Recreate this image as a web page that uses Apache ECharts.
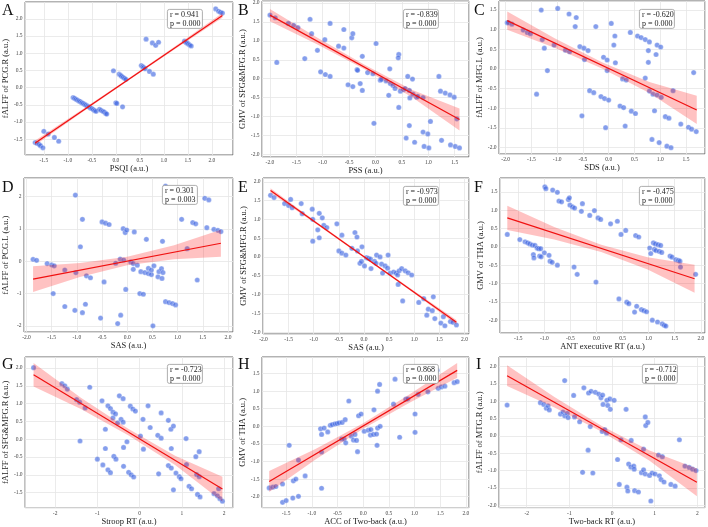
<!DOCTYPE html>
<html>
<head>
<meta charset="utf-8">
<script src="https://cdn.jsdelivr.net/npm/echarts@6.0.0/dist/echarts.min.js"></script>
<style>
  html, body { margin: 0; padding: 0; background: #fff; }
  #chart { width: 708px; height: 527px; }
</style>
</head>
<body>
<div id="chart"></div>
<script>
// ---- text ----
const letters = ['A', 'B', 'C', 'D', 'E', 'F', 'G', 'H', 'I'];
const xNames = ['PSQI (a.u.)', 'PSS (a.u.)', 'SDS (a.u.)', 'SAS (a.u.)', 'SAS (a.u.)',
  'ANT executive RT (a.u.)', 'Stroop RT (a.u.)', 'ACC of Two-back (a.u.)', 'Two-back RT (a.u.)'];
const yNames = ['fALFF of PCG.R (a.u.)', 'GMV of SFG&MFG.R (a.u.)', 'fALFF of MFG.L (a.u.)',
  'fALFF of PCG.L (a.u.)', 'GMV of SFG&MFG.R (a.u.)', 'GMV of THA (a.u.)',
  'fALFF of SFG&MFG.R (a.u.)', 'GMV of THA (a.u.)', 'fALFF of MTG.R (a.u.)'];
const rVals = ['0.941', '-0.839', '-0.620', '0.301', '-0.973', '-0.475', '-0.723', '0.868', '-0.712'];
const pVals = ['0.000', '0.000', '0.000', '0.003', '0.000', '0.000', '0.000', '0.000', '0.000'];

// ---- axis ranges / tick steps ----
const xMin = [-1.89, -2.15, -2.13, -2.05, -2.01, -1.85, -2.71, -1.97, -2.65];
const xMax = [2.44, 1.77, 1.87, 2.10, 2.09, 2.08, 2.21, 2.06, 2.18];
const yMin = [-1.96, -2.07, -2.16, -2.19, -2.05, -2.35, -1.92, -2.31, -2.07];
const yMax = [2.49, 2.05, 1.73, 2.58, 2.10, 1.88, 2.31, 1.97, 2.28];
const xStep = [0.5, 0.5, 0.5, 0.5, 0.5, 0.5, 1, 0.5, 1];
const yStep = [0.5, 0.5, 0.5, 1, 0.5, 0.5, 0.5, 0.5, 0.5];

// ---- points ----
const ptsA = [[-1.68,-1.60],[-1.64,-1.62],[-1.60,-1.65],[-1.57,-1.69],[-1.52,-1.75],[-1.50,-1.27],[-1.41,-1.35],[-1.28,-1.45],[-1.19,-1.56],
  [-0.89,-0.29],[-0.86,-0.31],[-0.83,-0.34],[-0.80,-0.36],[-0.77,-0.39],[-0.74,-0.41],[-0.71,-0.44],[-0.68,-0.46],[-0.65,-0.49],[-0.62,-0.51],[-0.59,-0.54],[-0.56,-0.56],[-0.53,-0.59],[-0.50,-0.61],[-0.47,-0.64],[-0.44,-0.67],[-0.41,-0.69],
  [-0.34,-0.63],[-0.31,-0.66],[-0.27,-0.69],[-0.24,-0.71],[-0.21,-0.75],[-0.19,-0.77],
  [-0.05,0.49],[0.00,-0.44],[0.02,-0.46],[0.14,-0.56],
  [0.07,0.39],[0.10,0.36],[0.12,0.33],[0.15,0.30],[0.18,0.27],[0.21,0.24],
  [0.53,0.64],[0.56,0.61],[0.58,0.58],[0.61,0.55],
  [0.63,1.41],[0.70,0.47],[0.78,0.39],[0.76,1.30],[0.83,1.23],[0.89,1.32],
  [1.43,1.35],[1.46,1.32],[1.48,1.30],[1.51,1.27],[1.54,1.24],[1.57,1.21],
  [2.08,2.29],[2.14,2.22],[2.18,2.19],[2.22,2.17]];
const ptsB = [[-2.00,1.68],[-1.90,1.61],[-1.87,0.43],[-1.65,1.46],[-1.55,1.41],[-1.47,1.35],[-1.34,0.53],[-1.24,1.57],[-1.21,1.19],[-1.10,0.75],[-1.04,0.18],[-0.96,1.03],[-0.95,0.11],[-0.86,1.46],[-0.86,0.06],[-0.70,0.86],[-0.60,1.30],[-0.60,0.81],[-0.52,-0.16],[-0.45,1.08],[-0.43,1.19],[-0.43,-0.21],[-0.35,0.24],[-0.34,0.22],[-0.29,-0.13],[-0.25,0.59],[-0.25,-0.31],[-0.15,0.16],[-0.05,0.13],[-0.03,-1.18],[0.01,0.93],[0.09,-0.04],[0.11,-0.02],[0.20,-0.06],[0.25,-0.44],[0.27,0.26],[0.28,-0.13],[0.33,-0.18],[0.37,-0.26],[0.44,0.64],[0.43,0.55],[0.44,-0.76],[0.47,-0.33],[0.53,-0.29],[0.56,-0.26],[0.58,-1.57],[0.61,0.06],[0.64,-0.31],[0.64,-1.24],[0.65,-0.51],[0.70,-0.01],[0.71,-0.41],[0.74,-1.68],[0.78,-0.49],[0.80,-0.47],[0.90,-0.50],[0.90,-1.41],[0.92,-1.79],[0.99,-1.46],[1.01,-1.83],[1.04,-1.13],[1.20,0.06],[1.23,-0.33],[1.25,-1.63],[1.32,-0.38],[1.41,-0.43],[1.42,-1.75],[1.49,-0.49],[1.51,-1.79],[1.54,-1.06],[1.59,-1.83]];
const ptsC = [[-1.97,1.18],[-1.95,1.18],[-1.88,1.14],[-1.66,0.99],[-1.58,0.93],[-1.52,0.90],[-1.40,-0.64],[-1.31,1.50],[-1.29,0.75],[-1.25,0.53],[-1.19,-0.04],[-1.06,0.61],[-0.99,1.54],[-0.84,0.48],[-0.77,1.40],[-0.76,0.44],[-0.65,1.08],[-0.63,1.31],[-0.56,0.57],[-0.52,-1.19],[-0.48,0.53],[-0.47,0.24],[-0.40,0.47],[-0.37,-0.55],[-0.29,-0.60],[-0.25,1.08],[-0.15,-0.70],[-0.10,0.30],[-0.08,-0.75],[-0.06,-1.49],[-0.03,0.23],[-0.03,-0.04],[0.00,-0.79],[0.05,1.16],[0.10,0.61],[0.12,0.84],[0.13,0.16],[0.22,-0.94],[0.27,-0.25],[0.29,-0.98],[0.32,-1.45],[0.34,-0.28],[0.42,0.93],[0.44,-1.07],[0.52,-1.13],[0.56,0.84],[0.63,0.80],[0.71,0.75],[0.71,-0.23],[0.77,0.47],[0.77,0.17],[0.79,0.69],[0.79,-0.56],[0.84,-1.79],[0.86,-0.64],[0.89,-1.06],[0.92,0.37],[0.94,0.61],[0.94,-0.66],[0.98,-1.87],[1.01,0.56],[1.02,-0.72],[1.10,-1.21],[1.13,-1.96],[1.17,-1.25],[1.21,-2.00],[1.25,-0.55],[1.40,-1.40],[1.55,-1.48],[1.61,-1.53],[1.65,-0.09],[1.70,-1.59]];
const ptsD = [[-1.87,0.06],[-1.80,0.03],[-1.59,-0.07],[-1.50,-0.11],[-1.47,-1.00],[-1.45,-0.14],[-1.24,-0.27],[-1.24,-1.40],[-1.03,2.05],[-1.02,-0.35],[-1.04,-1.52],[-0.93,0.45],[-0.89,1.30],[-0.89,-1.59],[-0.83,-1.33],[-0.81,-0.45],[-0.73,-0.51],[-0.53,-1.76],[-0.50,1.22],[-0.46,-0.64],[-0.43,1.18],[-0.36,1.14],[-0.23,-0.06],[-0.19,-1.93],[-0.14,0.07],[-0.13,-1.67],[-0.08,1.01],[-0.07,0.04],[-0.04,0.89],[-0.03,-0.87],[-0.01,0.97],[0.07,-0.02],[0.12,-0.07],[0.12,-0.25],[0.14,0.91],[0.20,-0.12],[0.25,-1.00],[0.27,-0.32],[0.32,-1.02],[0.35,-0.35],[0.38,0.68],[0.42,-0.22],[0.42,-0.38],[0.48,-0.41],[0.48,-0.27],[0.51,-2.00],[0.53,-0.14],[0.61,-0.48],[0.63,-0.32],[0.68,-0.23],[0.69,-0.53],[0.70,0.62],[0.71,-0.35],[0.76,2.33],[0.76,-1.25],[0.83,-1.28],[0.90,-1.31],[0.96,-1.35],[1.08,1.30],[1.19,0.39],[1.30,1.20],[1.36,1.16],[1.39,-0.58],[1.54,1.95],[1.62,1.90],[1.58,1.04],[1.72,0.99],[1.80,0.96],[1.86,0.92]];
const ptsE = [[-1.86,1.64],[-1.79,1.58],[-1.58,1.42],[-1.50,1.37],[-1.46,1.53],[-1.43,1.31],[-1.25,1.42],[-1.23,1.15],[-1.03,1.27],[-1.02,1.00],[-1.02,0.42],[-0.92,0.72],[-0.89,1.16],[-0.89,0.51],[-0.83,1.04],[-0.80,0.84],[-0.74,0.78],[-0.54,0.88],[-0.50,0.16],[-0.44,0.58],[-0.44,0.10],[-0.36,0.05],[-0.24,0.23],[-0.18,0.65],[-0.14,0.53],[-0.13,0.16],[-0.08,-0.17],[-0.05,-0.12],[-0.04,0.27],[0.01,-0.24],[0.05,-0.02],[0.09,-0.04],[0.13,-0.06],[0.14,-0.31],[0.21,-0.12],[0.24,-0.17],[0.25,0.05],[0.32,0.00],[0.35,-0.19],[0.37,-0.43],[0.42,-0.24],[0.47,-0.30],[0.48,0.05],[0.52,-0.43],[0.59,-0.40],[0.64,-0.43],[0.67,-0.48],[0.68,-0.73],[0.70,-0.37],[0.75,-0.31],[0.77,-1.17],[0.82,-0.37],[0.88,-0.42],[0.95,-0.48],[1.09,-1.21],[1.19,-1.11],[1.25,-1.55],[1.28,-1.39],[1.36,-1.43],[1.38,-1.06],[1.41,-1.64],[1.53,-1.76],[1.58,-1.59],[1.61,-1.83],[1.72,-1.72],[1.77,-1.74],[1.84,-1.81]];
const ptsF = [[-1.71,0.34],[-1.47,0.20],[-1.37,0.14],[-1.32,0.11],[-1.28,0.08],[-1.23,0.05],[-1.21,-0.21],[-1.20,-0.30],[-1.18,0.04],[-1.14,-0.03],[-1.11,-0.05],[-1.09,-0.25],[-1.07,-0.05],[-1.06,-0.27],[-1.00,-0.16],[-0.99,1.64],[-0.97,1.59],[-0.91,-0.23],[-0.89,-0.39],[-0.85,-0.42],[-0.84,1.55],[-0.75,-0.50],[-0.75,1.49],[-0.72,1.25],[-0.67,1.23],[-0.54,1.29],[-0.52,1.34],[-0.51,1.14],[-0.46,1.09],[-0.42,1.06],[-0.43,-0.55],[-0.37,-0.75],[-0.29,0.97],[-0.27,1.18],[-0.13,0.86],[-0.04,0.99],[-0.01,-0.96],[0.03,0.79],[0.08,0.75],[0.27,0.63],[0.40,0.70],[0.43,-1.42],[0.47,0.34],[0.56,0.45],[0.58,-1.51],[0.62,-1.55],[0.73,-1.78],[0.75,0.31],[0.77,-1.62],[0.81,0.27],[0.86,-1.71],[0.91,-1.74],[0.96,-1.77],[1.02,-0.03],[1.04,-0.18],[1.07,-2.00],[1.09,0.11],[1.11,-0.07],[1.13,0.08],[1.14,-0.10],[1.17,-2.05],[1.18,0.06],[1.20,-0.12],[1.23,0.04],[1.25,-0.15],[1.26,-2.10],[1.30,-2.14],[1.33,-2.16],[1.41,-0.25],[1.45,-0.28],[1.52,-0.35],[1.57,-0.37],[1.60,-0.39],[1.61,-0.55],[1.90,-0.75]];
const ptsG = [[-2.51,2.01],[-1.84,1.56],[-1.77,1.50],[-1.71,1.41],[-1.49,1.11],[-1.42,1.04],[-1.41,-0.05],[-1.29,0.88],[-1.18,1.46],[-1.00,-0.56],[-0.89,1.08],[-0.87,-0.72],[-0.81,0.28],[-0.81,-0.26],[-0.75,0.94],[-0.75,-0.86],[-0.69,0.86],[-0.69,-0.94],[-0.63,0.76],[-0.63,0.60],[-0.61,-0.48],[-0.57,0.71],[-0.56,-0.56],[-0.52,0.46],[-0.48,1.22],[-0.44,0.56],[-0.39,1.14],[-0.39,0.48],[-0.38,-0.23],[-0.38,-0.76],[-0.30,-0.07],[-0.26,-0.93],[-0.22,0.93],[-0.20,-1.00],[-0.16,0.85],[-0.14,-1.06],[-0.10,0.79],[0.02,0.09],[0.08,0.56],[0.09,-0.28],[0.20,0.94],[0.25,0.33],[0.43,0.11],[0.45,-0.97],[0.51,0.74],[0.51,0.03],[0.68,0.53],[0.68,-0.74],[0.74,0.28],[0.75,-0.26],[0.75,-0.81],[0.80,0.37],[0.80,-1.42],[0.86,-0.95],[0.94,-1.05],[0.98,-1.11],[1.10,0.02],[1.11,-0.71],[1.17,-1.32],[1.23,-1.39],[1.33,-0.49],[1.35,-0.99],[1.37,-1.55],[1.41,-0.35],[1.41,-1.05],[1.43,-1.62],[1.76,-1.53],[1.84,-1.59],[1.87,-1.39],[1.90,-1.67],[1.96,-1.74]];
const ptsH = [[-1.83,-1.75],[-1.76,-1.73],[-1.70,-1.71],[-1.57,-1.64],[-1.57,-2.16],[-1.50,-2.11],[-1.44,-0.54],[-1.37,-2.04],[-1.36,-1.55],[-1.31,-1.50],[-1.26,-1.99],[-1.26,-0.96],[-1.13,-1.41],[-0.83,-0.07],[-0.81,-0.23],[-0.81,-0.73],[-0.81,-1.76],[-0.76,-0.05],[-0.69,-0.16],[-0.64,0.03],[-0.60,0.05],[-0.55,0.07],[-0.51,0.08],[-0.47,0.10],[-0.42,-0.36],[-0.41,0.11],[-0.37,-0.36],[-0.35,0.19],[-0.34,-0.47],[-0.28,0.72],[-0.23,-0.28],[-0.19,-0.39],[-0.16,-0.23],[-0.13,-0.40],[-0.11,-0.72],[-0.09,0.30],[-0.04,0.35],[0.02,-0.14],[0.10,-0.11],[0.14,-0.25],[0.15,-0.09],[0.20,-0.23],[0.21,0.47],[0.26,-0.22],[0.27,-0.54],[0.28,-0.05],[0.28,1.00],[0.32,1.19],[0.33,0.00],[0.59,0.63],[0.62,1.34],[0.71,-0.31],[0.83,0.77],[0.87,0.78],[1.01,0.35],[1.01,-0.17],[1.07,0.91],[1.26,0.98],[1.44,1.59],[1.46,1.08],[1.52,1.12],[1.59,1.14],[1.77,1.24],[1.83,1.27]];
const ptsI = [[-2.46,0.89],[-1.68,0.96],[-1.60,0.91],[-1.54,0.80],[-1.50,0.87],[-1.47,0.75],[-1.21,0.63],[-1.15,0.69],[-1.11,0.58],[-1.11,1.60],[-1.05,0.65],[-1.03,0.53],[-0.90,1.17],[-0.88,0.55],[-0.76,0.41],[-0.69,-1.05],[-0.66,1.39],[-0.56,-0.41],[-0.55,1.24],[-0.51,0.27],[-0.49,1.29],[-0.45,-1.07],[-0.39,1.26],[-0.31,1.21],[-0.26,1.10],[-0.23,0.13],[-0.22,1.18],[-0.21,0.91],[-0.17,0.18],[-0.13,0.08],[-0.12,1.03],[-0.10,0.88],[-0.05,1.07],[-0.04,0.77],[0.05,1.03],[0.13,-0.68],[0.17,-1.40],[0.21,-0.11],[0.33,0.77],[0.35,-1.48],[0.37,-1.59],[0.39,-0.81],[0.44,-0.90],[0.45,-0.13],[0.51,-0.87],[0.52,-0.96],[0.53,-1.58],[0.62,-1.62],[0.69,-1.06],[0.74,-0.38],[0.74,-0.98],[0.78,0.55],[0.79,0.30],[0.78,-1.10],[0.84,0.39],[0.88,-1.14],[0.91,-1.88],[0.94,-1.07],[1.01,-1.10],[1.09,-0.55],[1.11,-1.15],[1.15,-1.26],[1.18,-0.60],[1.22,-1.33],[1.38,-1.40],[1.48,-1.45],[1.58,-0.11],[1.71,-0.87],[1.81,-0.91],[1.89,-0.96],[1.97,-1.00]];

// ---- regression lines (end points) ----
const lineXA = [-1.68, 2.22], lineYA = [-1.61, 2.10];
const lineXB = [-2.00, 1.59], lineYB = [1.68, -1.08];
const lineXC = [-1.97, 1.71], lineYC = [1.23, -1.04];
const lineXD = [-1.87, 1.86], lineYD = [-0.55, 0.56];
const lineXE = [-1.86, 1.84], lineYE = [1.77, -1.74];
const lineXF = [-1.71, 1.88], lineYF = [0.79, -0.87];
const lineXG = [-2.51, 1.96], lineYG = [1.81, -1.40];
const lineXH = [-1.83, 1.83], lineYH = [-1.57, 1.59];
const lineXI = [-2.46, 1.99], lineYI = [1.74, -1.34];

// ---- confidence bands ----
const bandXA = [-1.68, -0.70, 0.27, 1.25, 2.22];
const bandLoA = [-1.68, -0.72, 0.215, 1.14, 2.03];
const bandHiA = [-1.54, -0.64, 0.275, 1.22, 2.17];
const bandXB = [-2.00, -1.10, -0.20, 0.70, 1.59];
const bandLoB = [1.52, 0.90, 0.24, -0.50, -1.37];
const bandHiB = [1.84, 1.08, 0.36, -0.30, -0.79];
const bandXC = [-1.97, -1.05, -0.13, 0.79, 1.71];
const bandLoC = [1.00, 0.54, 0.015, -0.61, -1.40];
const bandHiC = [1.46, 0.78, 0.175, -0.33, -0.68];
const bandXD = [-1.87, -0.94, 0.00, 0.93, 1.86];
const bandLoD = [-0.95, -0.49, -0.12, 0.06, 0.14];
const bandHiD = [-0.15, -0.05, 0.14, 0.50, 0.98];
const bandXE = [-1.86, -0.93, 0.00, 0.92, 1.84];
const bandLoE = [1.71, 0.858, -0.019, -0.896, -1.80];
const bandHiE = [1.83, 0.918, 0.031, -0.836, -1.68];
const bandXF = [-1.71, -0.81, 0.09, 0.98, 1.88];
const bandLoF = [0.46, 0.20, -0.14, -0.62, -1.25];
const bandHiF = [1.12, 0.54, 0.06, -0.28, -0.49];
const bandXG = [-2.51, -1.39, -0.27, 0.84, 1.96];
const bandLoG = [1.48, 0.846, 0.112, -0.725, -1.75];
const bandHiG = [2.14, 1.166, 0.292, -0.465, -1.05];
const bandXH = [-1.83, -0.92, 0.00, 0.92, 1.83];
const bandLoH = [-1.87, -0.935, -0.07, 0.684, 1.38];
const bandHiH = [-1.27, -0.635, 0.09, 0.924, 1.80];
const bandXI = [-2.46, -1.35, -0.24, 0.88, 1.99];
const bandLoI = [1.44, 0.822, 0.124, -0.72, -1.74];
const bandHiI = [2.04, 1.122, 0.284, -0.42, -0.94];

// layout (pixels)
const gridLeft = [23, 262, 499, 24, 263, 500, 24, 262, 499];
const gridRight = [233, 469, 705, 233, 469, 705, 233, 469, 705];
const gridTop = [2, 1, 1, 178, 178, 178, 357, 357, 357];
const gridBottom = [155, 157, 154, 332, 334, 333, 509, 509, 510];
const yNameGap = [11, 13, 14, 14, 13, 14, 12, 13, 13];
const boxLeft = [167, 403, 639, 162, 403, 639, 167, 403, 642];
const boxTop = [9, 9, 9, 185, 186, 186, 364, 364, 364];
const letterLeft = [2, 238, 474, 2, 238, 474, 2, 238, 476];
const letterTop = [3, 3, 3, 180, 180, 180, 357, 357, 357];

const panels = [
  [ptsA, lineXA, lineYA, bandXA, bandLoA, bandHiA],
  [ptsB, lineXB, lineYB, bandXB, bandLoB, bandHiB],
  [ptsC, lineXC, lineYC, bandXC, bandLoC, bandHiC],
  [ptsD, lineXD, lineYD, bandXD, bandLoD, bandHiD],
  [ptsE, lineXE, lineYE, bandXE, bandLoE, bandHiE],
  [ptsF, lineXF, lineYF, bandXF, bandLoF, bandHiF],
  [ptsG, lineXG, lineYG, bandXG, bandLoG, bandHiG],
  [ptsH, lineXH, lineYH, bandXH, bandLoH, bandHiH],
  [ptsI, lineXI, lineYI, bandXI, bandLoI, bandHiI],
];

const serif = '"Liberation Serif", "DejaVu Serif", serif';

function bandItem(bx, lo, hi) {
  return function (params, api) {
    const pts = [];
    for (let i = 0; i < bx.length; i++) pts.push(api.coord([bx[i], hi[i]]));
    for (let i = bx.length - 1; i >= 0; i--) pts.push(api.coord([bx[i], lo[i]]));
    return {
      type: 'polygon',
      shape: { points: pts },
      style: { fill: 'rgba(255,0,0,0.24)' },
      silent: true,
    };
  };
}

function axisLabel(step) {
  return {
    fontSize: 5.5,
    color: '#444',
    fontFamily: serif,
    margin: 2.5,
    showMinLabel: false,
    showMaxLabel: false,
    formatter: (v) => v.toFixed(step >= 1 ? 0 : 1),
  };
}

const grids = [], xAxes = [], yAxes = [], series = [], graphics = [];
panels.forEach((p, i) => {
  const [pts, lx, ly, bx, lo, hi] = p;
  grids.push({
    left: gridLeft[i],
    right: 708 - gridRight[i],
    top: gridTop[i],
    bottom: 527 - gridBottom[i],
    show: true,
    backgroundColor: '#fff',
    borderColor: '#666',
    borderWidth: 1,
  });
  xAxes.push({
    type: 'value', gridIndex: i,
    min: xMin[i], max: xMax[i],
    minInterval: xStep[i], maxInterval: xStep[i],
    name: xNames[i], nameLocation: 'middle', nameGap: 7.5,
    nameTextStyle: { fontFamily: serif, fontSize: 8.5, color: '#222' },
    axisLine: { show: false }, axisTick: { show: false },
    axisLabel: axisLabel(xStep[i]),
    splitLine: { lineStyle: { color: '#e6e6e6', width: 0.8 } },
  });
  yAxes.push({
    type: 'value', gridIndex: i,
    min: yMin[i], max: yMax[i],
    minInterval: yStep[i], maxInterval: yStep[i],
    name: yNames[i], nameLocation: 'middle', nameGap: yNameGap[i],
    nameTextStyle: { fontFamily: serif, fontSize: 8.5, color: '#222' },
    axisLine: { show: false }, axisTick: { show: false },
    axisLabel: axisLabel(yStep[i]),
    splitLine: { lineStyle: { color: '#e6e6e6', width: 0.8 } },
  });
  series.push({
    type: 'scatter', xAxisIndex: i, yAxisIndex: i,
    data: pts, symbolSize: 5.2, z: 2, silent: true,
    itemStyle: { color: 'rgba(60,100,225,0.78)', borderColor: 'rgba(255,255,255,0.9)', borderWidth: 0.4 },
  });
  series.push({
    type: 'custom', xAxisIndex: i, yAxisIndex: i,
    data: [[bx[0], lo[0]]], renderItem: bandItem(bx, lo, hi), z: 3, silent: true,
  });
  series.push({
    type: 'line', xAxisIndex: i, yAxisIndex: i,
    data: lx.map((x, k) => [x, ly[k]]),
    symbol: 'none', z: 4, silent: true,
    lineStyle: { color: '#f01010', width: 1.2 },
  });
  graphics.push({
    type: 'text', left: letterLeft[i], top: letterTop[i], z: 10,
    style: { text: letters[i], font: '16px ' + serif, fill: '#111' },
  });
  graphics.push({
    type: 'group', left: boxLeft[i], top: boxTop[i], z: 10,
    children: [
      { type: 'rect', shape: { x: 0, y: 0, width: 35, height: 19, r: 2 },
        style: { fill: '#fff', stroke: '#999', lineWidth: 0.8 }, z: 10 },
      { type: 'text', x: 2.5, y: 1.5, z: 11,
        style: { text: 'r = ' + rVals[i] + '\np = ' + pVals[i], font: '8px ' + serif,
          fill: '#222', lineHeight: 8.5 } },
    ],
  });
});

const chart = echarts.init(document.getElementById('chart'), null, { renderer: 'canvas' });
chart.setOption({
  animation: false,
  backgroundColor: '#fff',
  grid: grids,
  xAxis: xAxes,
  yAxis: yAxes,
  series: series,
  graphic: graphics,
});
</script>
</body>
</html>
